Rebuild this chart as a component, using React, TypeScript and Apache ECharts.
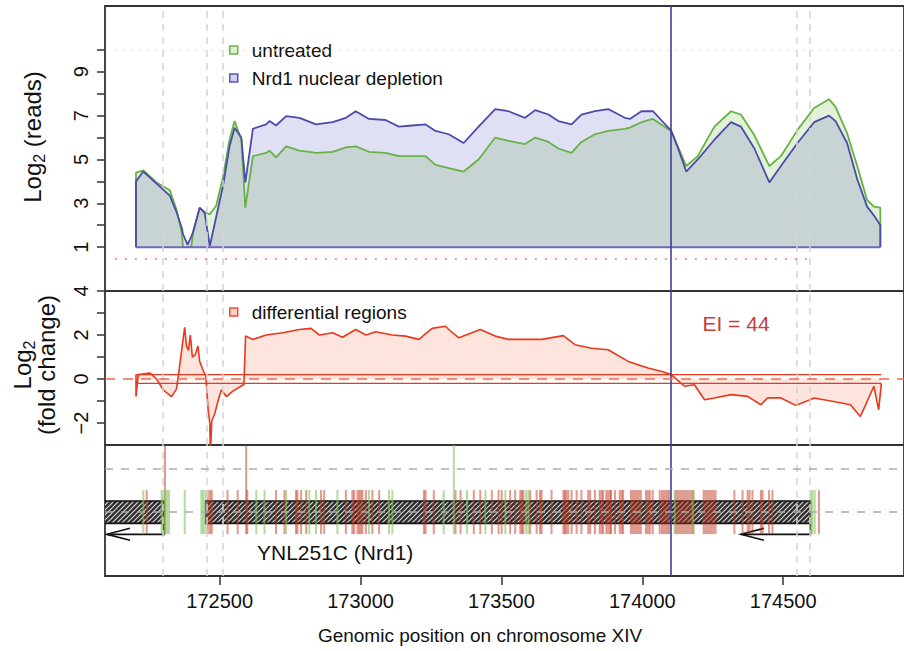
import React, { useEffect, useRef } from "react";
import * as echarts from "echarts";

const FONT = '"Liberation Sans", Arial, Helvetica, sans-serif';

// Genomic window
const X_MIN = 172093;
const X_MAX = 174929;

// Top panel: log2 read coverage
const readPos = [172203,172229,172276,172323,172347,172365,172370,172386,172400,172406,172429,172447,172465,172488,172512,172535,172553,172577,172591,172618,172665,172677,172700,172736,172783,172842,172901,172948,172983,173030,173089,173136,173183,173231,173266,173313,173366,173419,173478,173525,173584,173620,173667,173702,173749,173784,173832,173879,173938,173956,173997,174038,174067,174103,174126,174156,174197,174256,174315,174350,174398,174451,174492,174551,174610,174663,174686,174727,174763,174798,174822,174845];
const untreated = [4.4,4.5,3.95,3.6,2.7,1.7,1.0,1.0,1.05,1.7,2.8,2.6,2.5,2.9,4.2,5.9,6.75,5.9,2.8,5.15,5.3,5.4,5.1,5.6,5.4,5.3,5.35,5.55,5.6,5.35,5.3,5.15,5.15,5.15,4.75,4.6,4.45,5.0,6.0,5.85,5.7,6.0,5.8,5.5,5.3,5.8,6.15,6.3,6.4,6.45,6.7,6.85,6.6,6.3,5.6,4.7,5.15,6.5,7.2,7.05,6.1,4.7,5.15,6.35,7.35,7.75,7.4,6.2,4.7,3.15,2.85,2.8];
const nrd1 = [4.0,4.45,3.9,3.35,2.6,1.9,1.6,1.1,1.5,1.7,2.8,2.55,1.05,2.4,3.8,5.6,6.45,6.0,3.95,6.4,6.6,6.75,6.55,6.98,6.9,6.6,6.7,6.9,7.2,6.85,6.8,6.5,6.55,6.6,6.3,6.15,5.75,6.5,7.3,7.2,6.9,7.25,7.05,6.75,6.6,7.05,7.2,7.3,6.9,6.85,7.2,7.2,6.8,6.3,5.55,4.45,5.0,5.9,6.7,6.5,5.5,3.95,4.7,5.75,6.7,7.0,6.75,5.75,4.1,2.85,2.45,2.0];
const READ_BASE = 1;

// Middle panel: log2 fold change
const foldPos = [172203,172211,172253,172276,172300,172329,172347,172355,172368,172376,172382,172389,172396,172403,172413,172423,172429,172441,172451,172459,172465,172467,172472,172482,172494,172506,172524,172547,172586,172592,172618,172665,172724,172783,172824,172854,172901,172936,172983,173019,173054,173113,173160,173207,173254,173302,173313,173349,173425,173478,173525,173584,173643,173720,173761,173820,173879,173950,174020,174067,174103,174138,174150,174185,174221,174256,174315,174374,174421,174445,174492,174545,174610,174669,174739,174774,174792,174822,174839,174848];
const foldVals = [-0.8,0.2,0.27,0.0,-0.5,-0.8,-0.45,0.3,1.6,2.35,1.5,1.3,2.0,1.0,1.1,1.5,0.8,0.4,0.1,-1.4,-2.0,-3.4,-1.9,-1.6,-1.0,-0.5,-0.8,-0.55,-0.25,1.95,1.8,2.0,2.1,2.25,2.3,2.0,2.1,1.9,2.25,2.0,2.15,2.0,1.95,1.8,2.3,2.4,2.25,1.87,2.25,1.95,1.8,1.8,1.8,1.97,1.56,1.4,1.33,0.8,0.5,0.35,0.2,-0.2,-0.33,-0.26,-0.94,-0.86,-0.71,-0.79,-1.17,-0.86,-0.86,-1.2,-0.86,-1.0,-1.17,-1.7,-1.2,-0.33,-1.4,-0.3];
const BAND = 0.2;
const EI_TEXT = "EI = 44";

// Guides
const dashedGuides = [172298, 172454, 172511, 174550, 174596];
const cursorPos = 174100;
const lowReadLevel = 0.45;
const highReadLevel = 10;

// Bottom panel: annotation track
const greenMarks = [172229,172294,172298,172306,172313,172320,172376,172435,172441,172449,172630,172659,172736,172818,172842,172918,173030,173101,173113,173295,173378,173443,173514,173588,173596,174115,174179,174598,174604,174612];
const greenLong = [173331];
const redMarks = [172241,172458,172466,172472,172528,172564,172598,172700,172730,172771,172776,172789,172807,172860,172871,172948,172971,172977,172989,172995,173001,173007,173019,173042,173066,173225,173231,173260,173337,173355,173402,173425,173466,173490,173501,173531,173549,173567,173573,173578,173602,173625,173637,173643,173678,173720,173725,173730,173737,173749,173767,173784,173808,173815,173832,173849,173856,173861,173872,173879,173886,173889,173903,173920,173927,173932,173960,173967,173974,173981,173988,173995,174013,174020,174027,174037,174062,174070,174077,174084,174091,174097,174119,174126,174133,174140,174147,174154,174161,174168,174175,174182,174218,174225,174232,174239,174246,174253,174260,174327,174356,174374,174381,174391,174421,174427,174450,174462,174627];
const redLong = [172306, 172594];
const geneBoxes = [[172000, 172302], [172450, 174597]];
const geneArrows = [[172302, 172100], [174597, 174350]];
const geneLabels = ["YNL251C (Nrd1)"];
const geneLabelPos = [172910];

const xTicks = [172500, 173000, 173500, 174000, 174500];

// track levels (bottom panel y in 0..1)
const MARK_TOP = 0.656, MARK_BOTTOM = 0.32, BOX_TOP = 0.573, BOX_BOTTOM = 0.402, ARROW_Y = 0.318, LABEL_Y = 0.176;
const TRACK_DASH = [0.822, 0.486];

function makeHatch() {
  const s = 5;
  const c = document.createElement("canvas");
  c.width = s; c.height = s;
  const ctx = c.getContext("2d")!;
  ctx.fillStyle = "#2e2e2e";
  ctx.fillRect(0, 0, s, s);
  ctx.strokeStyle = "#d8d8d8";
  ctx.lineWidth = 1.2;
  ctx.beginPath();
  ctx.moveTo(0, s); ctx.lineTo(s, 0);
  ctx.moveTo(-s / 2, s / 2); ctx.lineTo(s / 2, -s / 2);
  ctx.moveTo(s / 2, s * 1.5); ctx.lineTo(s * 1.5, s / 2);
  ctx.stroke();
  return c;
}

export default function App() {
  const ref = useRef<HTMLDivElement>(null);
  useEffect(() => {
    const chart = echarts.init(ref.current!, null, { renderer: "svg" });
    const hatch = { image: makeHatch(), repeat: "repeat" };

    const closed = (vals: number[]) => {
      const n = Math.min(readPos.length, vals.length);
      const pts: number[][] = [[readPos[0], READ_BASE]];
      for (let i = 0; i < n; i++) pts.push([readPos[i], vals[i]]);
      pts.push([readPos[n - 1], READ_BASE]);
      return pts;
    };
    const foldData: number[][] = [[foldPos[0], BAND]];
    for (let i = 0; i < Math.min(foldPos.length, foldVals.length); i++) foldData.push([foldPos[i], foldVals[i]]);
    foldData.push([foldPos[foldPos.length - 1], -BAND]);

    const vGuides = [
      ...dashedGuides.map((v) => ({ xAxis: v, lineStyle: { type: [7, 6], color: "#d4d4d4", width: 1.5 } })),
      { xAxis: cursorPos, lineStyle: { type: "solid", color: "#3e3e9c", width: 1.6 } },
    ];
    const mlBase = { symbol: "none", silent: true, label: { show: false }, animation: false };

    const xAxisBase = (i: number) => ({
      gridIndex: i, type: "value", min: X_MIN, max: X_MAX,
      axisLine: { show: false }, splitLine: { show: false },
      axisTick: i === 2 ? { show: true, customValues: xTicks, length: 9, lineStyle: { color: "#333", width: 1.5 } } : { show: false },
      axisLabel: i === 2
        ? { show: true, customValues: xTicks, fontSize: 20, color: "#111", fontFamily: FONT, margin: 15, formatter: (v: number) => String(v) }
        : { show: false },
    });
    const minus = (v: number) => (v < 0 ? "\u2212" + Math.abs(v) : String(v));

    const markRender = (color: string) => (params: any, api: any) => {
      const x = api.value(0);
      const top = api.value(1) === 1 ? 1 : MARK_TOP;
      const p1 = api.coord([x, top]);
      const p2 = api.coord([x, MARK_BOTTOM]);
      return { type: "line", shape: { x1: p1[0], y1: p1[1], x2: p2[0], y2: p2[1] }, style: { stroke: color, lineWidth: 2 } };
    };

    const option: any = {
      animation: false,
      backgroundColor: "#fff",
      textStyle: { fontFamily: FONT },
      grid: [
        { left: 105, top: 6, width: 802, height: 285, show: true, borderColor: "#333", borderWidth: 1.8 },
        { left: 105, top: 291, width: 802, height: 154, show: true, borderColor: "#333", borderWidth: 1.8 },
        { left: 105, top: 445, width: 802, height: 131, show: true, borderColor: "#333", borderWidth: 1.8 },
      ],
      xAxis: [xAxisBase(0), xAxisBase(1), xAxisBase(2)],
      yAxis: [
        {
          gridIndex: 0, type: "value", min: -1, max: 12, splitLine: { show: false }, axisLine: { show: false },
          axisTick: { show: true, customValues: [1, 2, 3, 4, 5, 6, 7, 8, 9, 10], length: 8, lineStyle: { color: "#333", width: 1.5 } },
          axisLabel: { customValues: [1, 3, 5, 7, 9], rotate: 90, fontSize: 20, color: "#111", fontFamily: FONT, margin: 14 },
        },
        {
          gridIndex: 1, type: "value", min: -3, max: 4, splitLine: { show: false }, axisLine: { show: false },
          axisTick: { show: true, customValues: [-2, -1, 0, 1, 2, 3, 4], length: 8, lineStyle: { color: "#333", width: 1.5 } },
          axisLabel: { customValues: [-2, 0, 2, 4], rotate: 90, fontSize: 20, color: "#111", fontFamily: FONT, margin: 14, formatter: minus },
        },
        { gridIndex: 2, type: "value", min: 0, max: 1, show: false },
      ],
      legend: [
        {
          orient: "vertical", left: 224, top: 35, itemWidth: 26, itemHeight: 8, itemGap: 8, selectedMode: false,
          icon: "path://M0,0L8,0L8,8L0,8Z",
          textStyle: { fontSize: 19, lineHeight: 20, color: "#111", fontFamily: FONT },
          data: [
            { name: "untreated", itemStyle: { color: "rgba(150,210,110,0.35)", borderColor: "#6cb44a", borderWidth: 1.5 } },
            { name: "Nrd1 nuclear depletion", itemStyle: { color: "rgba(120,120,210,0.35)", borderColor: "#5555b0", borderWidth: 1.5 } },
          ],
        },
        {
          orient: "vertical", left: 224, top: 297, itemWidth: 26, itemHeight: 8, selectedMode: false,
          icon: "path://M0,0L8,0L8,8L0,8Z",
          textStyle: { fontSize: 19, lineHeight: 20, color: "#111", fontFamily: FONT },
          data: [{ name: "differential regions", itemStyle: { color: "rgba(245,150,120,0.45)", borderColor: "#e8503a", borderWidth: 1.5 } }],
        },
      ],
      series: [
        {
          name: "untreated-area", type: "line", xAxisIndex: 0, yAxisIndex: 0, data: closed(untreated), showSymbol: false, symbol: "none",
          lineStyle: { width: 0 }, areaStyle: { origin: READ_BASE, color: "rgba(140,200,100,0.25)", opacity: 1 },
        },
        {
          name: "nrd1-area", type: "line", xAxisIndex: 0, yAxisIndex: 0, data: closed(nrd1), showSymbol: false, symbol: "none",
          lineStyle: { width: 0 }, areaStyle: { origin: READ_BASE, color: "rgba(100,100,200,0.2)", opacity: 1 },
        },
        {
          name: "untreated", type: "line", xAxisIndex: 0, yAxisIndex: 0, data: closed(untreated), showSymbol: false, symbol: "none",
          lineStyle: { width: 1.8, color: "#66b244" }, itemStyle: { color: "#66b244" },
        },
        {
          name: "Nrd1 nuclear depletion", type: "line", xAxisIndex: 0, yAxisIndex: 0, data: closed(nrd1), showSymbol: false, symbol: "none",
          lineStyle: { width: 1.8, color: "#4b4ba8" }, itemStyle: { color: "#4b4ba8" },
        },
        {
          name: "baseline", type: "line", xAxisIndex: 0, yAxisIndex: 0, showSymbol: false, symbol: "none",
          data: [[readPos[0], READ_BASE], [readPos[readPos.length - 1], READ_BASE]],
          lineStyle: { width: 2, color: "#6a6ac0" },
          markLine: {
            ...mlBase,
            data: [
              ...vGuides,
              [{ coord: [172128, lowReadLevel], lineStyle: { type: [2, 8], color: "#f07860", width: 1.6 } }, { coord: [174600, lowReadLevel] }],
              [{ coord: [172128, highReadLevel], lineStyle: { type: [2, 6], color: "#eee0e0", width: 1.4 } }, { coord: [X_MAX, highReadLevel] }],
            ],
          },
        },
        {
          name: "differential regions", type: "line", xAxisIndex: 1, yAxisIndex: 1, data: foldData, showSymbol: false, symbol: "none",
          lineStyle: { width: 1.6, color: "#e8391c" }, itemStyle: { color: "#e8391c" },
          areaStyle: { origin: 0, color: "rgba(245,130,100,0.22)", opacity: 1 },
          markLine: {
            ...mlBase,
            data: [...vGuides, { yAxis: 0, lineStyle: { type: [10, 8], color: "#f06a50", width: 1.6 } }],
          },
        },
        {
          name: "band-upper", type: "line", xAxisIndex: 1, yAxisIndex: 1, showSymbol: false, symbol: "none",
          data: [[foldPos[0], BAND], [foldPos[foldPos.length - 1], BAND]], lineStyle: { width: 1.3, color: "#e8391c" },
        },
        {
          name: "band-lower", type: "line", xAxisIndex: 1, yAxisIndex: 1, showSymbol: false, symbol: "none",
          data: [[foldPos[0], -BAND], [foldPos[foldPos.length - 1], -BAND]], lineStyle: { width: 1.3, color: "#e8391c" },
        },
        {
          name: "genes", type: "custom", xAxisIndex: 2, yAxisIndex: 2, clip: true, data: geneBoxes, encode: { x: [0, 1] },
          renderItem: (params: any, api: any) => {
            const s = api.coord([api.value(0), BOX_TOP]);
            const e = api.coord([api.value(1), BOX_BOTTOM]);
            return { type: "rect", shape: { x: s[0], y: s[1], width: e[0] - s[0], height: e[1] - s[1] }, style: { fill: hatch, stroke: "#111", lineWidth: 1.6 } };
          },
        },
        {
          name: "strand", type: "custom", xAxisIndex: 2, yAxisIndex: 2, clip: true, data: geneArrows, encode: { x: [0, 1] },
          renderItem: (params: any, api: any) => {
            const a = api.coord([api.value(0), BOX_BOTTOM]);
            const b = api.coord([api.value(0), ARROW_Y]);
            const t = api.coord([api.value(1), ARROW_Y]);
            const dir = t[0] < b[0] ? 1 : -1;
            return {
              type: "group",
              children: [
                { type: "polyline", shape: { points: [a, b, t] }, style: { stroke: "#111", lineWidth: 1.6, fill: null } },
                { type: "polyline", shape: { points: [[t[0] + dir * 23, t[1] - 6], t, [t[0] + dir * 23, t[1] + 6]] }, style: { stroke: "#111", lineWidth: 1.6, fill: null } },
              ],
            };
          },
        },
        {
          name: "decrease marks", type: "custom", xAxisIndex: 2, yAxisIndex: 2, clip: true,
          data: [...redMarks.map((p) => [p, 0]), ...redLong.map((p) => [p, 1])],
          renderItem: markRender("rgba(192,52,28,0.5)"),
        },
        {
          name: "increase marks", type: "custom", xAxisIndex: 2, yAxisIndex: 2, clip: true,
          data: [...greenMarks.map((p) => [p, 0]), ...greenLong.map((p) => [p, 1])],
          renderItem: markRender("rgba(130,195,90,0.6)"),
        },
        {
          name: "gene label", type: "custom", xAxisIndex: 2, yAxisIndex: 2,
          data: geneLabelPos.map((p, i) => [p, LABEL_Y, i]),
          renderItem: (params: any, api: any) => {
            const p = api.coord([api.value(0), api.value(1)]);
            return { type: "text", x: p[0], y: p[1], style: { text: geneLabels[api.value(2)], fontSize: 21, fontFamily: FONT, fill: "#111", align: "center", verticalAlign: "middle" } };
          },
          markLine: {
            ...mlBase,
            data: [...vGuides, ...TRACK_DASH.map((v) => ({ yAxis: v, lineStyle: { type: [8, 8], color: "#aaaaaa", width: 1.5 } }))],
          },
        },
      ],
      graphic: [
        {
          type: "text", x: 32, y: 137, rotation: Math.PI / 2,
          style: {
            text: "{a|Log}{s|2}{a| (reads)}", align: "center", verticalAlign: "middle",
            rich: { a: { fontSize: 24, fontFamily: FONT, fill: "#111", lineHeight: 30 }, s: { fontSize: 16, fontFamily: FONT, fill: "#111", verticalAlign: "bottom", lineHeight: 18 } },
          },
        },
        {
          type: "text", x: 22, y: 365, rotation: Math.PI / 2,
          style: {
            text: "{a|Log}{s|2}", align: "center", verticalAlign: "middle",
            rich: { a: { fontSize: 24, fontFamily: FONT, fill: "#111", lineHeight: 30 }, s: { fontSize: 16, fontFamily: FONT, fill: "#111", verticalAlign: "bottom", lineHeight: 18 } },
          },
        },
        {
          type: "text", x: 46, y: 365, rotation: Math.PI / 2,
          style: { text: "(fold change)", align: "center", verticalAlign: "middle", fontSize: 24, fontFamily: FONT, fill: "#111" },
        },
        {
          type: "text", x: 480, y: 635,
          style: { text: "Genomic position on chromosome XIV", align: "center", verticalAlign: "middle", fontSize: 19, fontFamily: FONT, fill: "#111" },
        },
        {
          type: "text", x: 736, y: 323,
          style: { text: EI_TEXT, align: "center", verticalAlign: "middle", fontSize: 21, fontFamily: FONT, fill: "#cc3b3b" },
        },
      ],
    };
    chart.setOption(option);
    return () => chart.dispose();
  }, []);
  return <div ref={ref} style={{ position: "absolute", left: 0, top: 0, width: 904, height: 651, background: "#fff" }} />;
}
